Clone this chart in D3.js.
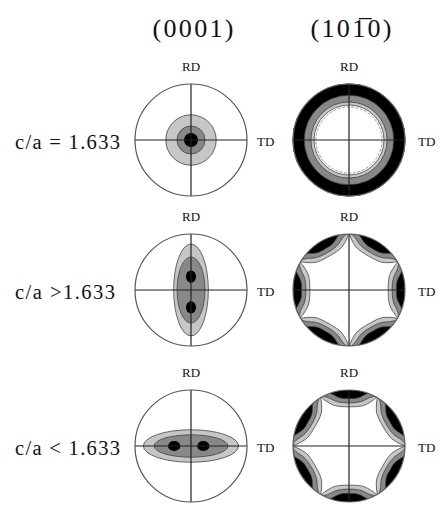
<!DOCTYPE html>
<html>
<head>
<meta charset="utf-8">
<script src="https://cdn.jsdelivr.net/npm/d3@7"></script>
<style>
  body { margin: 0; background: #fff; }
</style>
</head>
<body>
<div id="figure"></div>
<script>
// column headers and row labels
var planes = ["(0001)", "(101\u03050)"];
var rowLabels = ["c/a = 1.633", "c/a >1.633", "c/a < 1.633"];

// (0001) pole figures: contour ellipses [rx, ry] as fraction of the radius, lowest level first
var basalLevels = [
  [[0.45, 0.45], [0.25, 0.25]],
  [[0.31, 0.82], [0.25, 0.59]],
  [[0.85, 0.29], [0.66, 0.20]]
];
// (0001) maxima [x, y] (fraction of radius, y downwards) and their size [rx, ry]
var basalPeaks = [
  [[0, 0]],
  [[0, -0.24], [0, 0.31]],
  [[-0.30, 0], [0.22, 0]]
];
var basalPeakSize = [[0.125, 0.125], [0.09, 0.11], [0.11, 0.09]];

// (10-10) pole figures: pole directions in degrees from TD, counter-clockwise
var prismPoles = [[], [0, 60, 120, 180, 240, 300], [30, 90, 150, 210, 270, 330]];
// uniform ring for the ideal ratio: depth of each level below the rim (fraction of radius)
var ringDepths = [0.375, 0.32, 0.2];
var ringDash = 0.41;
// lobe contours: [degrees from pole, depth below rim], one profile per level
var lobeProfiles = [
  [[0, 0.30], [12, 0.28], [20, 0.23], [25, 0.15], [28, 0.07], [30, 0]],
  [[0, 0.23], [10, 0.21], [17, 0.16], [22, 0.08], [26, 0.02], [28, 0], [30, 0]],
  [[0, 0.15], [8, 0.14], [13, 0.10], [17, 0.04], [20, 0], [25, 0], [30, 0]]
];

var levelColors = ["#c6c6c6", "#888888", "#000000"];

var serif = "'Liberation Serif', 'Times New Roman', serif";

var svg = d3.select("#figure")
  .append("svg")
  .attr("width", 440)
  .attr("height", 505);

var R = 56;
var colX = d3.scaleOrdinal().domain([0, 1]).range([191, 349]);
var rowY = d3.scaleOrdinal().domain([0, 1, 2]).range([140, 290, 446]);
var rad = d3.scaleLinear().domain([0, 1]).range([0, R]);
// degrees from TD (counter-clockwise) -> d3 radial angle (clockwise from 12 o'clock)
var ang = d3.scaleLinear().domain([0, 90]).range([Math.PI / 2, 0]);

// titles
planes.forEach(function(p, j) {
  svg.append("text")
    .attr("x", colX(j) + 2)
    .attr("y", 37)
    .attr("text-anchor", "middle")
    .attr("font-family", serif)
    .attr("font-size", 26)
    .attr("textLength", 81)
    .attr("lengthAdjust", "spacing")
    .attr("fill", "#111")
    .text(p);
});

// row labels
rowLabels.forEach(function(label, i) {
  svg.append("text")
    .attr("x", 15)
    .attr("y", rowY(i) + 9)
    .attr("font-family", serif)
    .attr("font-size", 20.5)
    .attr("textLength", i == 1 ? 100 : 105)
    .attr("lengthAdjust", "spacing")
    .attr("fill", "#111")
    .text(label);
});

function axes(g, j) {
  g.append("text")
    .attr("x", 0).attr("y", -R - 13)
    .attr("text-anchor", "middle")
    .attr("font-family", serif)
    .attr("font-size", 13)
    .attr("fill", "#111")
    .text("RD");
  g.append("text")
    .attr("x", R + (j == 0 ? 10 : 13)).attr("y", 6)
    .attr("font-family", serif)
    .attr("font-size", 13)
    .attr("fill", "#111")
    .text("TD");
}

function crosshair(g) {
  g.append("line").attr("x1", -R).attr("x2", R).attr("y1", 0).attr("y2", 0)
    .attr("stroke", "#222").attr("stroke-width", 1.2);
  g.append("line").attr("x1", 0).attr("x2", 0).attr("y1", -R).attr("y2", R)
    .attr("stroke", "#222").attr("stroke-width", 1.2);
}

function rim(g, color) {
  g.append("circle").attr("r", R)
    .attr("fill", "none")
    .attr("stroke", color)
    .attr("stroke-width", 1.2);
}

// inner contour of one level, built from the lobe profile around every pole
function contourPoints(poles, profile) {
  var pts = [];
  poles.forEach(function(p) {
    profile.slice(1).reverse().forEach(function(d) { pts.push([p - d[0], d[1]]); });
    pts.push([p, profile[0][1]]);
    profile.slice(1, -1).forEach(function(d) { pts.push([p + d[0], d[1]]); });
  });
  return pts;
}

var radial = d3.lineRadial()
  .angle(function(d) { return ang(d[0]); })
  .radius(function(d) { return rad(1 - d[1]); })
  .curve(d3.curveCatmullRomClosed.alpha(0.5));

var arc = d3.arc().startAngle(0).endAngle(2 * Math.PI);

rowLabels.forEach(function(label, i) {

  // ---- (0001) column ----
  var g = svg.append("g")
    .attr("transform", `translate(${colX(0)}, ${rowY(i)})`);

  g.selectAll("ellipse.level")
    .data(basalLevels[i])
    .enter()
    .append("ellipse")
    .attr("class", "level")
    .attr("rx", d => rad(d[0]))
    .attr("ry", d => rad(d[1]))
    .attr("fill", (d, k) => levelColors[k])
    .attr("stroke", "#444")
    .attr("stroke-width", 0.8);

  g.selectAll("ellipse.peak")
    .data(basalPeaks[i])
    .enter()
    .append("ellipse")
    .attr("class", "peak")
    .attr("cx", d => rad(d[0]))
    .attr("cy", d => rad(d[1]))
    .attr("rx", rad(basalPeakSize[i][0]))
    .attr("ry", rad(basalPeakSize[i][1]))
    .attr("fill", levelColors[2]);

  crosshair(g);
  rim(g, "#555");
  axes(g, 0);

  // ---- (10-10) column ----
  var h = svg.append("g")
    .attr("transform", `translate(${colX(1)}, ${rowY(i)})`);

  var clipId = "disk" + i;
  h.append("clipPath").attr("id", clipId)
    .append("circle").attr("r", R);

  var poles = prismPoles[i];
  if (poles.length == 0) {
    h.selectAll("path.ring")
      .data(ringDepths)
      .enter()
      .append("path")
      .attr("class", "ring")
      .attr("d", d => arc({ innerRadius: rad(1 - d), outerRadius: R }))
      .attr("fill", (d, k) => levelColors[k])
      .attr("stroke", "#333")
      .attr("stroke-width", 0.7);
    h.append("circle")
      .attr("r", rad(1 - ringDash))
      .attr("fill", "none")
      .attr("stroke", "#999")
      .attr("stroke-width", 1)
      .attr("stroke-dasharray", "3,1.5");
  } else {
    var outer = d3.path();
    outer.moveTo(R + 3, 0);
    outer.arc(0, 0, R + 3, 0, 2 * Math.PI);
    outer.closePath();
    var body = h.append("g").attr("clip-path", `url(#${clipId})`);
    lobeProfiles.forEach(function(profile, k) {
      var inner = radial(contourPoints(poles, profile));
      body.append("path")
        .attr("d", outer.toString() + inner)
        .attr("fill-rule", "evenodd")
        .attr("fill", levelColors[k]);
      body.append("path")
        .attr("d", inner)
        .attr("fill", "none")
        .attr("stroke", "#333")
        .attr("stroke-width", 0.7);
    });
  }

  crosshair(h);
  rim(h, "#666");
  axes(h, 1);
});
</script>
</body>
</html>
